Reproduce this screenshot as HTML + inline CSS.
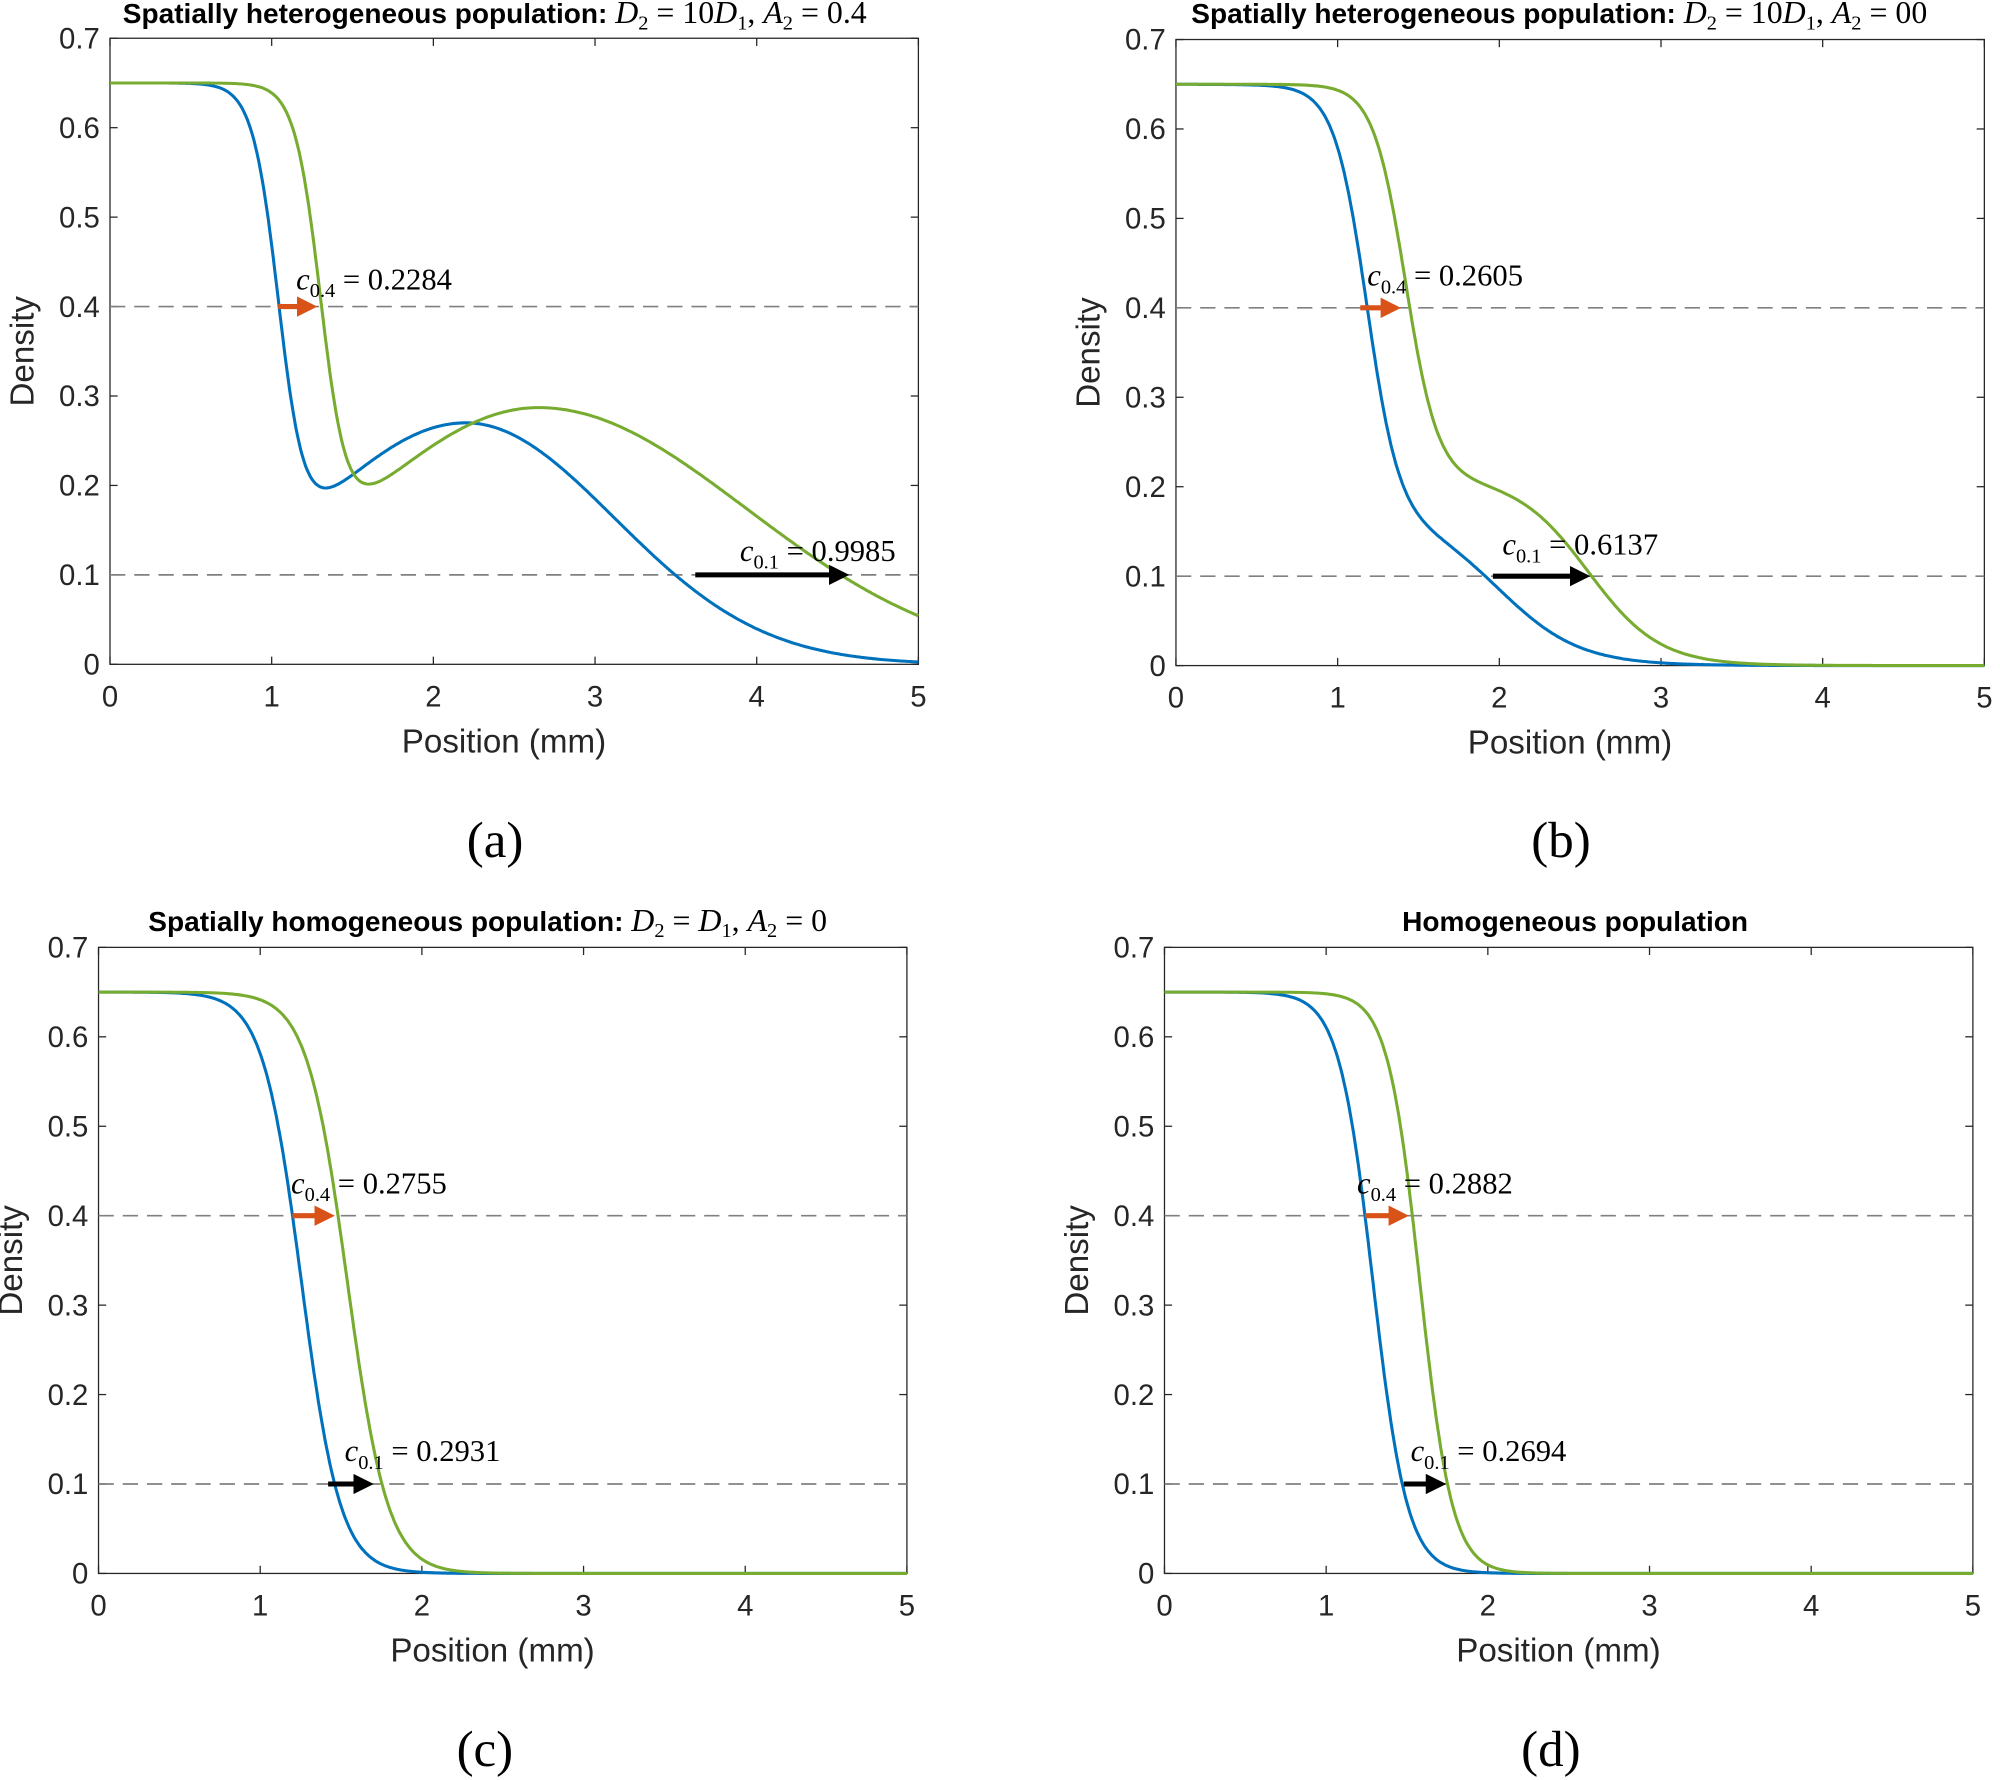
<!DOCTYPE html>
<html><head><meta charset="utf-8"><style>
html,body{margin:0;padding:0;background:#fff}
svg{display:block}
.t{font-family:"Liberation Sans",sans-serif;font-size:23px;fill:#262626}
.lab{font-family:"Liberation Sans",sans-serif;font-size:26px;fill:#262626}
.ttl{font-family:"Liberation Sans",sans-serif;font-size:22px;font-weight:bold;fill:#000}
.mt{font-family:"Liberation Serif",serif;font-weight:normal;font-size:25px}
.m{font-style:italic}
.ann{font-family:"Liberation Serif",serif;font-size:24px;fill:#000}
.cap{font-family:"Liberation Serif",serif;font-size:40px;fill:#000}
</style></head><body>
<svg id="s" width="2000" height="1780" viewBox="0 0 1568 1396" xmlns="http://www.w3.org/2000/svg">
<defs>
<marker id="ao" markerWidth="4" markerHeight="4" refX="2" refY="2" orient="auto" markerUnits="strokeWidth"><path d="M0,0 L4,2 L0,4z" fill="#d95319"/></marker>
<marker id="ak" markerWidth="4" markerHeight="4" refX="2" refY="2" orient="auto" markerUnits="strokeWidth"><path d="M0,0 L4,2 L0,4z" fill="#000"/></marker>
</defs>
<g id="g"></g>
<text class="ttl" x="96" y="18">Spatially heterogeneous population: <tspan class="mt"><tspan class="m">D</tspan><tspan font-size="16" dy="5">2</tspan><tspan dy="-5"> = 10</tspan><tspan class="m">D</tspan><tspan font-size="16" dy="5">1</tspan><tspan dy="-5">, </tspan><tspan class="m">A</tspan><tspan font-size="16" dy="5">2</tspan><tspan dy="-5"> = 0.4</tspan></tspan></text>
<text class="ttl" x="934" y="18">Spatially heterogeneous population: <tspan class="mt"><tspan class="m">D</tspan><tspan font-size="16" dy="5">2</tspan><tspan dy="-5"> = 10</tspan><tspan class="m">D</tspan><tspan font-size="16" dy="5">1</tspan><tspan dy="-5">, </tspan><tspan class="m">A</tspan><tspan font-size="16" dy="5">2</tspan><tspan dy="-5"> = 00</tspan></tspan></text>
<text class="ttl" x="116" y="730">Spatially homogeneous population: <tspan class="mt"><tspan class="m">D</tspan><tspan font-size="16" dy="5">2</tspan><tspan dy="-5"> = </tspan><tspan class="m">D</tspan><tspan font-size="16" dy="5">1</tspan><tspan dy="-5">, </tspan><tspan class="m">A</tspan><tspan font-size="16" dy="5">2</tspan><tspan dy="-5"> = 0</tspan></tspan></text>
<text class="ttl" x="1235" y="730" text-anchor="middle">Homogeneous population</text>
<text class="cap" x="388" y="672" text-anchor="middle">(a)</text>
<text class="cap" x="1224" y="672" text-anchor="middle">(b)</text>
<text class="cap" x="380" y="1385" text-anchor="middle">(c)</text>
<text class="cap" x="1216" y="1385" text-anchor="middle">(d)</text>
<text class="ann" x="232" y="227"><tspan class="m">c</tspan><tspan font-size="16" dy="6">0.4</tspan><tspan dy="-6"> = 0.2284</tspan></text>
<text class="ann" x="580" y="440"><tspan class="m">c</tspan><tspan font-size="16" dy="6">0.1</tspan><tspan dy="-6"> = 0.9985</tspan></text>
<text class="ann" x="1072" y="224"><tspan class="m">c</tspan><tspan font-size="16" dy="6">0.4</tspan><tspan dy="-6"> = 0.2605</tspan></text>
<text class="ann" x="1178" y="435"><tspan class="m">c</tspan><tspan font-size="16" dy="6">0.1</tspan><tspan dy="-6"> = 0.6137</tspan></text>
<text class="ann" x="228" y="936"><tspan class="m">c</tspan><tspan font-size="16" dy="6">0.4</tspan><tspan dy="-6"> = 0.2755</tspan></text>
<text class="ann" x="270" y="1146"><tspan class="m">c</tspan><tspan font-size="16" dy="6">0.1</tspan><tspan dy="-6"> = 0.2931</tspan></text>
<text class="ann" x="1064" y="936"><tspan class="m">c</tspan><tspan font-size="16" dy="6">0.4</tspan><tspan dy="-6"> = 0.2882</tspan></text>
<text class="ann" x="1106" y="1146"><tspan class="m">c</tspan><tspan font-size="16" dy="6">0.1</tspan><tspan dy="-6"> = 0.2694</tspan></text>
</svg>
<script>
var S=function(z){return 1/(1+Math.exp(z));};
var panels=[
 {x0:86,y0:30,
  b:function(x){var s=S((x-1.05)/0.08);var d=x-2.2;var bp=0.27*Math.exp(-Math.pow(d/(d<0?1.4:1.3),2));return 0.65*s+bp*(1-s);},
  g:function(x){var s=S((x-1.31)/0.08);var d=x-2.65;var bp=0.287*Math.exp(-Math.pow(d/(d<0?1.63:1.82),2));return 0.65*s+bp*(1-s);},
  ar:[[1.04,1.29,0.4,'#d95319','ao'],[3.62,4.58,0.1,'#000','ak']]},
 {x0:922,y0:31,
  b:function(x){return 0.48*S((x-1.18)/0.1)+0.17*S((x-2.0)/0.25);},
  g:function(x){return 0.44*S((x-1.42)/0.1)+0.21*S((x-2.55)/0.22);},
  ar:[[1.14,1.40,0.4,'#d95319','ao'],[1.96,2.57,0.1,'#000','ak']]},
 {x0:77,y0:743,
  b:function(x){return 0.65*S((x-1.256)/0.12);},
  g:function(x){return 0.65*S((x-1.54)/0.125);},
  ar:[[1.2,1.47,0.4,'#d95319','ao'],[1.42,1.71,0.1,'#000','ak']]},
 {x0:913,y0:743,
  b:function(x){return 0.65*S((x-1.29)/0.106);},
  g:function(x){return 0.65*S((x-1.58)/0.10);},
  ar:[[1.24,1.52,0.4,'#d95319','ao'],[1.48,1.75,0.1,'#000','ak']]}
];
var W=634,H=491,h='';
panels.forEach(function(p){
 var X=function(v){return p.x0+v/5*W;},Y=function(v){return p.y0+H-v/0.7*H;};
 h+='<rect x="'+p.x0+'" y="'+p.y0+'" width="'+W+'" height="'+H+'" fill="none" stroke="#262626" stroke-width="1"/>';
 for(var i=0;i<=5;i++){var xx=X(i);h+='<line x1="'+xx+'" y1="'+(p.y0+H)+'" x2="'+xx+'" y2="'+(p.y0+H-6)+'" stroke="#262626"/><line x1="'+xx+'" y1="'+p.y0+'" x2="'+xx+'" y2="'+(p.y0+6)+'" stroke="#262626"/><text class="t" x="'+xx+'" y="'+(p.y0+H+33)+'" text-anchor="middle">'+i+'</text>';}
 for(var j=0;j<=7;j++){var yy=Y(j/10);h+='<line x1="'+p.x0+'" y1="'+yy+'" x2="'+(p.x0+6)+'" y2="'+yy+'" stroke="#262626"/><line x1="'+(p.x0+W)+'" y1="'+yy+'" x2="'+(p.x0+W-6)+'" y2="'+yy+'" stroke="#262626"/><text class="t" x="'+(p.x0-8)+'" y="'+(yy+8)+'" text-anchor="end">'+(j==0?'0':(j/10).toFixed(1))+'</text>';}
 h+='<text class="lab" x="'+(p.x0+W/2-8)+'" y="'+(p.y0+H+69)+'" text-anchor="middle">Position (mm)</text>';
 h+='<text class="lab" transform="translate('+(p.x0-60)+','+(p.y0+H/2)+') rotate(-90)" text-anchor="middle">Density</text>';
 [0.4,0.1].forEach(function(v){h+='<line x1="'+p.x0+'" y1="'+Y(v)+'" x2="'+(p.x0+W)+'" y2="'+Y(v)+'" stroke="#808080" stroke-width="1.3" stroke-dasharray="12,7"/>';});
 ['b','g'].forEach(function(k){var pts=[];for(var i=0;i<=500;i++){var x=i/100;pts.push(X(x).toFixed(1)+','+Y(p[k](x)).toFixed(1));}
  h+='<polyline points="'+pts.join(' ')+'" fill="none" stroke="'+(k=='b'?'#0072bd':'#77ac30')+'" stroke-width="2.4"/>';});
 p.ar.forEach(function(a){h+='<line x1="'+X(a[0])+'" y1="'+Y(a[2])+'" x2="'+(X(a[1])-9)+'" y2="'+Y(a[2])+'" stroke="'+a[3]+'" stroke-width="4" marker-end="url(#'+a[4]+')"/>';});
});
document.getElementById('g').innerHTML=h;
</script>
</body></html>
